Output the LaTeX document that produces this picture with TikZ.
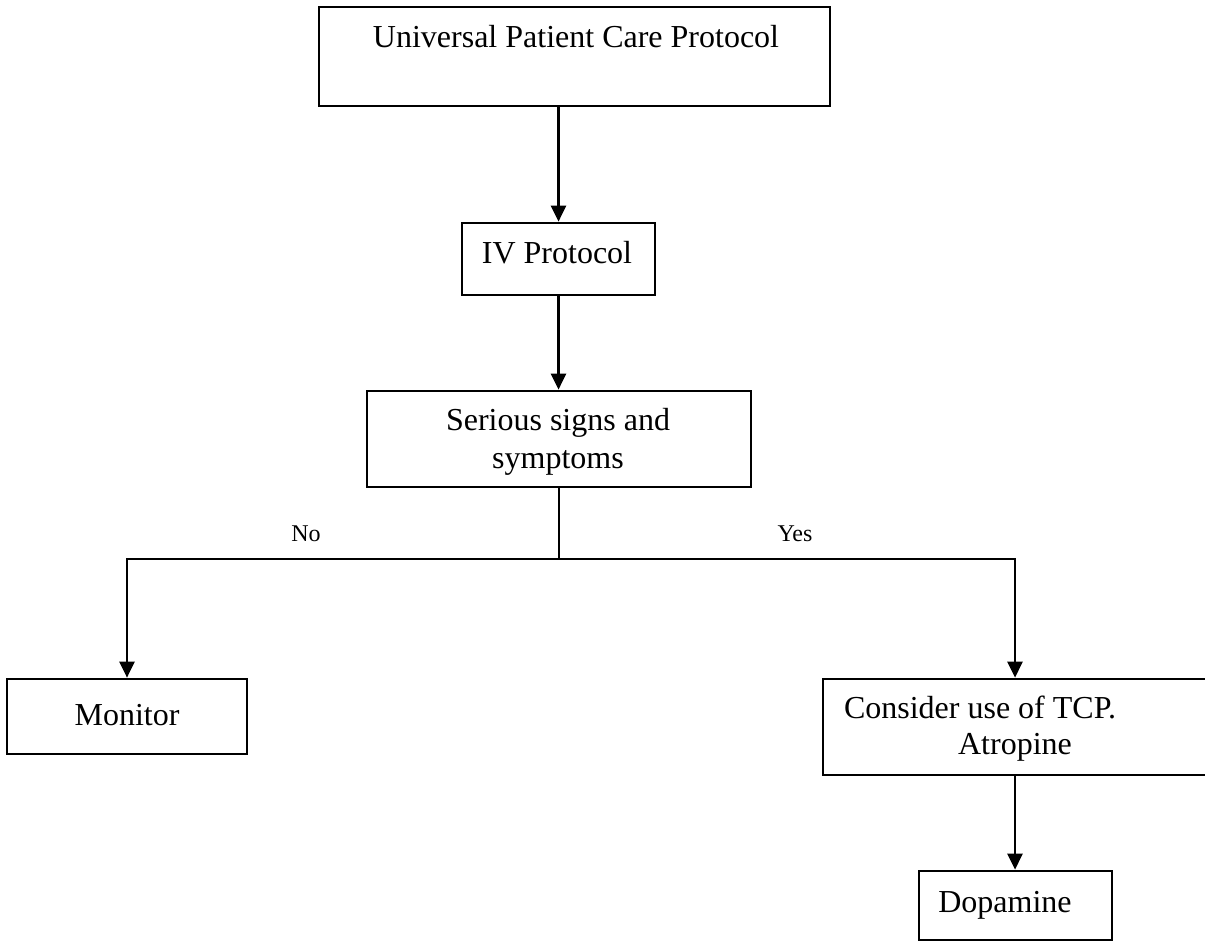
\documentclass[tikz,border=0pt]{standalone}
\usepackage{fontspec}
\setmainfont{Liberation Serif}
\usetikzlibrary{arrows.meta}
\begin{document}
\begin{tikzpicture}[x=1pt,y=-1pt,
  box/.style={draw,line width=2.7pt,inner sep=0pt,rectangle},
  txt/.style={font=\fontsize{32}{38}\selectfont,inner sep=0pt,anchor=base},
  lbl/.style={font=\fontsize{24}{28}\selectfont,inner sep=0pt,anchor=base},
  flow/.style={line width=2.7pt,-{Triangle[width=15pt,length=16pt]}},
  link/.style={line width=2.7pt}]
\useasboundingbox (0,0) rectangle (1205,943);
\begin{scope}
\clip (0,0) rectangle (1205,943);
% boxes
\node[box,minimum width=511pt,minimum height=99pt] (top) at (574.5,56.5) {};
\node[box,minimum width=193pt,minimum height=72pt] (iv) at (558.5,259) {};
\node[box,minimum width=384pt,minimum height=96pt] (ser) at (559,439) {};
\node[box,minimum width=240pt,minimum height=75pt] (mon) at (127,716.5) {};
\node[box,minimum width=384pt,minimum height=96pt] (tcp) at (1015,727) {};
\node[box,minimum width=193pt,minimum height=69pt] (dop) at (1015.5,905.5) {};
\end{scope}
% texts
\node[txt] (ttop) at (576,47) {Universal Patient Care Protocol};
\node[txt] (tiv) at (557,263) {IV Protocol};
\node[txt] (tser1) at (558,430) {Serious signs and};
\node[txt] (tser2) at (558,468) {symptoms};
\node[txt] (tmon) at (127,725) {Monitor};
\node[txt] (ttcp1) at (980,718) {Consider use of TCP.};
\node[txt] (ttcp2) at (1015,754) {Atropine};
\node[txt] (tdop) at (1005,912) {Dopamine};
% connectors
\draw[flow] (top.south -| iv.north) -- (iv.north);
\draw[flow] (iv.south) -- (iv.south |- ser.north);
\coordinate (j) at (559,559);
\draw[link] (ser.south -| j) -- (j);
\draw[flow] (j) -| (mon.north);
\draw[flow] (j) -| (tcp.north);
\draw[flow] (tcp.south) -- (tcp.south |- dop.north);
% branch labels
\node[lbl] (no) at (306,541) {No};
\node[lbl] (yes) at (795,541) {Yes};
\end{tikzpicture}
\end{document}
